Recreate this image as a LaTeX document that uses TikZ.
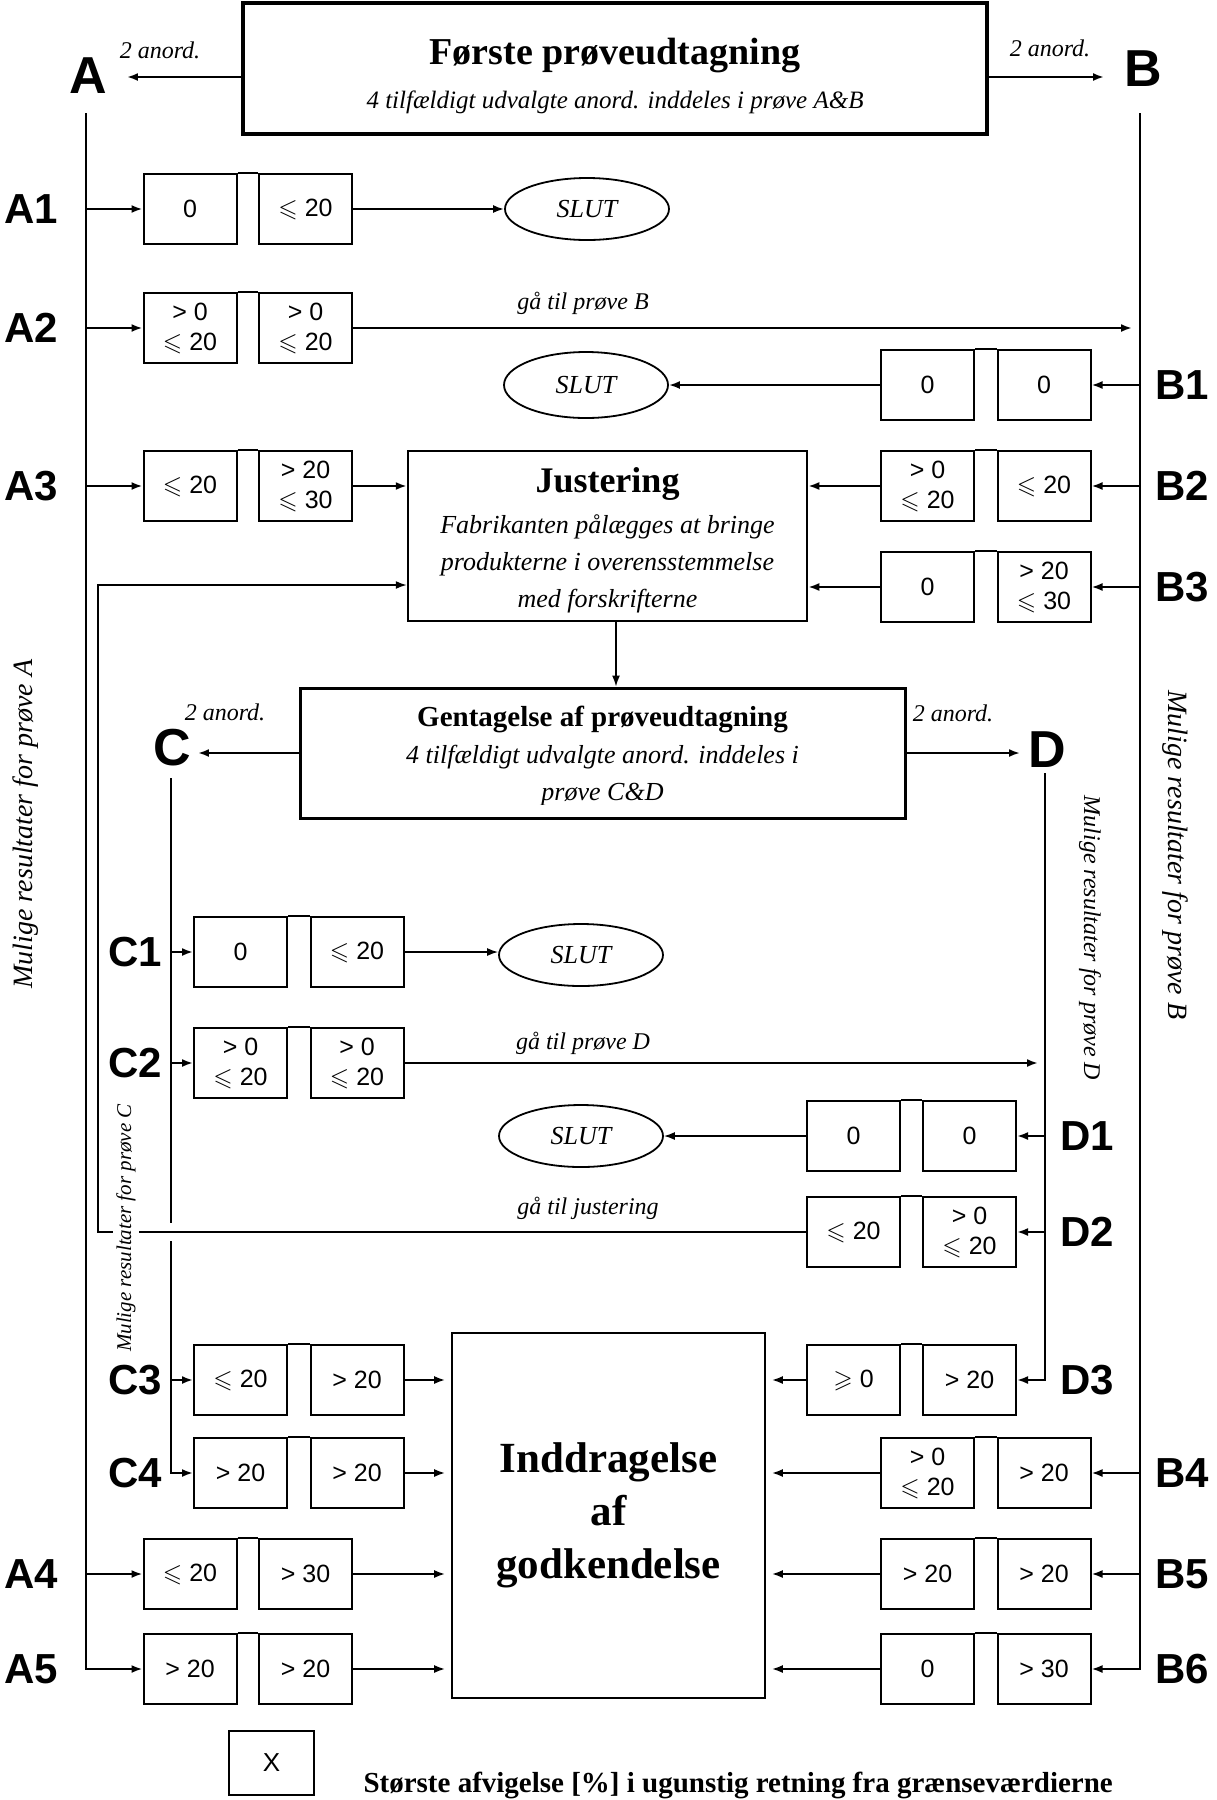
\documentclass[tikz,border=0pt]{standalone}
\usepackage{fontspec}
\usepackage{amssymb}
\usepackage{tikz}
\usetikzlibrary{arrows.meta,positioning,shapes.geometric,calc}
\setmainfont{Liberation Serif}
\setsansfont{Liberation Sans}
\definecolor{ink}{HTML}{000000}
\newcommand{\fsz}[2]{\fontsize{#1}{#2}\selectfont}
\newcommand{\lte}{$\leqslant$}
\newcommand{\gte}{$\geqslant$}
\tikzset{
  valbox/.style={draw=ink,line width=2pt,minimum width=93pt,minimum height=70pt,
                 inner sep=0pt,align=center,font=\sffamily\fsz{25}{30}},
  rowlab/.style={font=\sffamily\bfseries\fsz{42}{42},inner sep=0pt},
  biglab/.style={font=\sffamily\bfseries\fsz{52}{52},inner sep=0pt},
  headbox/.style={draw=ink,line width=2.5pt,align=center,inner sep=0pt},
  slutnode/.style={ellipse,draw=ink,line width=1.8pt,minimum width=164pt,
                   minimum height=62pt,inner sep=0pt,font=\itshape\fsz{26}{30}},
  notelab/.style={font=\itshape\fsz{24}{28}},
  sidelab/.style={font=\itshape\fsz{28}{30}},
  stemline/.style={line width=2pt,draw=ink},
  flowarr/.style={-{Latex[length=11pt,width=8pt]},line width=2pt,draw=ink},
  linkline/.style={line width=1.2pt,draw=ink}
}

\begin{document}
\begin{tikzpicture}[x=1pt,y=-1pt]
    \path[use as bounding box] (0,0) rectangle (1217,1800);
    % main boxes
    \node[headbox,line width=4pt,minimum width=744pt,minimum height=131pt]
      (first) at (615,68.5) {};
    \node[align=center,font=\itshape\fsz{25}{44}] (firsttxt) at (615,76)
      {{\upshape\bfseries\fsz{38}{44}Første prøveudtagning}\\
       4 tilfældigt udvalgte anord. inddeles i prøve A\&B};
    \node[headbox,minimum width=399pt,minimum height=170pt] (just) at (607.5,536) {};
    \node[align=center,font=\itshape\fsz{26}{37}] (justtxt) at (607.5,540)
      {{\upshape\bfseries\fsz{36}{37}Justering}\\[4pt]
       Fabrikanten pålægges at bringe\\produkterne i overensstemmelse\\
       med forskrifterne};
    \node[headbox,line width=3pt,minimum width=605pt,minimum height=130pt]
      (gent) at (602.5,753) {};
    \begin{scope}
      \clip (gent.north west) rectangle ([yshift=15pt]gent.south east);
      \node[align=center,font=\itshape\fsz{26}{37}] (genttxt) at (602.5,756)
        {{\upshape\bfseries\fsz{29}{37}Gentagelse af prøveudtagning}\\
         4 tilfældigt udvalgte anord. inddeles i\\prøve C\&D};
    \end{scope}
    \node[headbox,line width=1.6pt,minimum width=313pt,minimum height=365pt,
          font=\bfseries\fsz{43}{53}] (indd) at (608.5,1515.5)
      {Inddragelse\\af\\godkendelse};

    % sample letters
    \node[biglab] (Alab) at (88,76) {A};
    \node[biglab] (Blab) at (1143,69) {B};
    \node[biglab] (Clab) at (172,748) {C};
    \node[biglab] (Dlab) at (1047,750) {D};
    \node[notelab] (anA) at (160,50) {2 anord.};
    \node[notelab] (anB) at (1050,48) {2 anord.};
    \node[notelab] (anC) at (225,712) {2 anord.};
    \node[notelab] (anD) at (953,713) {2 anord.};
    \draw[flowarr,shorten >=20pt] ([yshift=-8.5pt]first.west)
      -- ([yshift=-8.5pt]first.west -| Alab.east);
    \draw[flowarr,shorten >=20pt] ([yshift=-8.5pt]first.east)
      -- ([yshift=-8.5pt]first.east -| Blab.west);
    \draw[flowarr,shorten >=7pt] (gent.west) -- (gent.west -| Clab.east);
    \draw[flowarr,shorten >=8pt] (gent.east) -- (gent.east -| Dlab.west);
    \draw[flowarr,line width=1.5pt] ([xshift=8.5pt]just.south)
      -- ([xshift=8.5pt]just.south |- gent.north);

    % result rows
    \foreach \nm/\lx/\y/\xa/\xb/\ta/\tb in {
      A1/31/209/190/305.5/0/{\lte\ 20},
      A2/31/328/190/305.5/{> 0\\\lte\ 20}/{> 0\\\lte\ 20},
      A3/31/486/190/305.5/{\lte\ 20}/{> 20\\\lte\ 30},
      A4/31/1574/190/305.5/{\lte\ 20}/{> 30},
      A5/31/1669/190/305.5/{> 20}/{> 20},
      B1/1182/385/927.5/1044/0/0,
      B2/1182/486/927.5/1044/{> 0\\\lte\ 20}/{\lte\ 20},
      B3/1182/587/927.5/1044/0/{> 20\\\lte\ 30},
      B4/1182/1473/927.5/1044/{> 0\\\lte\ 20}/{> 20},
      B5/1182/1574/927.5/1044/{> 20}/{> 20},
      B6/1182/1669/927.5/1044/0/{> 30},
      C1/135/952/240.5/357/0/{\lte\ 20},
      C2/135/1063/240.5/357/{> 0\\\lte\ 20}/{> 0\\\lte\ 20},
      C3/135/1380/240.5/357/{\lte\ 20}/{> 20},
      C4/135/1473/240.5/357/{> 20}/{> 20},
      D1/1087/1136/853.5/969.5/0/0,
      D2/1087/1232/853.5/969.5/{\lte\ 20}/{> 0\\\lte\ 20},
      D3/1087/1380/853.5/969.5/{\gte\ 0}/{> 20}}{
      \node[rowlab] (\nm) at (\lx,\y) {\nm};
      \node[valbox] (\nm-a) at (\xa,\y) {\ta};
      \node[valbox] (\nm-b) at (\xb,\y) {\tb};
      \draw[linkline] (\nm-a.north east) -- (\nm-b.north west);
    }

    % stems
    \coordinate (Atop) at (86,113);
    \coordinate (Btop) at (1140,113);
    \coordinate (Ctop) at (171,778);
    \coordinate (Dtop) at (1045,773);
    \foreach \r in {A1,A2,A3,A4}
      \draw[flowarr] (Atop |- \r-a.west) -- (\r-a.west);
    \draw[flowarr] (Atop) |- (A5-a.west);
    \foreach \r in {B1,B2,B3,B4,B5}
      \draw[flowarr] (Btop |- \r-b.east) -- (\r-b.east);
    \draw[flowarr] (Btop) |- (B6-b.east);
    \foreach \r in {C1,C2,C3}
      \draw[flowarr] (Ctop |- \r-a.west) -- (\r-a.west);
    \coordinate (Cx) at (Ctop |- D2-a.west);
    \draw[stemline] (Ctop) -- ([yshift=9pt]Cx);
    \draw[flowarr] ([yshift=-9pt]Cx) |- (C4-a.west);
    \foreach \r in {D1,D2}
      \draw[flowarr] (Dtop |- \r-b.east) -- (\r-b.east);
    \draw[flowarr] (Dtop) |- (D3-b.east);

    % outcomes
    \node[slutnode] (slutA) at (587,209) {SLUT};
    \node[slutnode,minimum height=66pt] (slutB) at (586,385) {SLUT};
    \node[slutnode] (slutC) at (581,955) {SLUT};
    \node[slutnode] (slutD) at (581,1136) {SLUT};
    \draw[flowarr] (A1-b.east) -- (A1-b.east -| slutA.west);
    \draw[flowarr] (B1-a.west) -- (B1-a.west -| slutB.east);
    \draw[flowarr,line width=1.5pt] (C1-b.east) -- (C1-b.east -| slutC.west);
    \draw[flowarr,line width=1.5pt] (D1-a.west) -- (D1-a.west -| slutD.east);
    \draw[flowarr,shorten >=8pt] (A2-b.east) -- (A2-b.east -| Btop);
    \node[notelab] (gotoB) at (583,303) {gå til prøve B};
    \draw[flowarr,shorten >=7pt] (C2-b.east) -- (C2-b.east -| Dtop);
    \node[notelab] (gotoD) at (583,1043) {gå til prøve D};
    \draw[flowarr] (A3-b.east) -- (A3-b.east -| just.west);
    \draw[flowarr] (B2-a.west) -- (B2-a.west -| just.east);
    \draw[flowarr] (B3-a.west) -- (B3-a.west -| just.east);
    \coordinate (loopx) at (98,585);
    \draw[flowarr,line width=1.6pt] (D2-a.west) -| (loopx) -- (loopx -| just.west);
    \node[notelab] (gotoJ) at (588,1208) {gå til justering};
    \foreach \r in {C3,C4,A4,A5}
      \draw[flowarr,shorten >=6pt] (\r-b.east) -- (\r-b.east -| indd.west);
    \foreach \r in {D3,B4,B5,B6}
      \draw[flowarr,shorten >=6pt] (\r-a.west) -- (\r-a.west -| indd.east);

    % side texts
    \node[sidelab,rotate=90] (sideA) at (26,824) {Mulige resultater for prøve A};
    \node[sidelab,rotate=-90] (sideB) at (1175,855) {Mulige resultater for prøve B};
    \node[sidelab,rotate=-90,font=\itshape\fsz{24}{26}] (sideD) at (1090,938)
      {Mulige resultater for prøve D};
    \node[sidelab,rotate=90,font=\itshape\fsz{21}{24},fill=white,inner sep=3pt]
      (sideC) at (126,1228) {Mulige resultater for prøve C};

    % legend
    \node[valbox,minimum width=85pt,minimum height=64pt,font=\sffamily\fsz{26}{30}]
      (legx) at (271.5,1763) {X};
    \node[anchor=base west,font=\bfseries\fsz{29}{30}] (legtxt) at (360,1792)
      {Største afvigelse [\%] i ugunstig retning fra grænseværdierne};
  \end{tikzpicture}
\end{document}
